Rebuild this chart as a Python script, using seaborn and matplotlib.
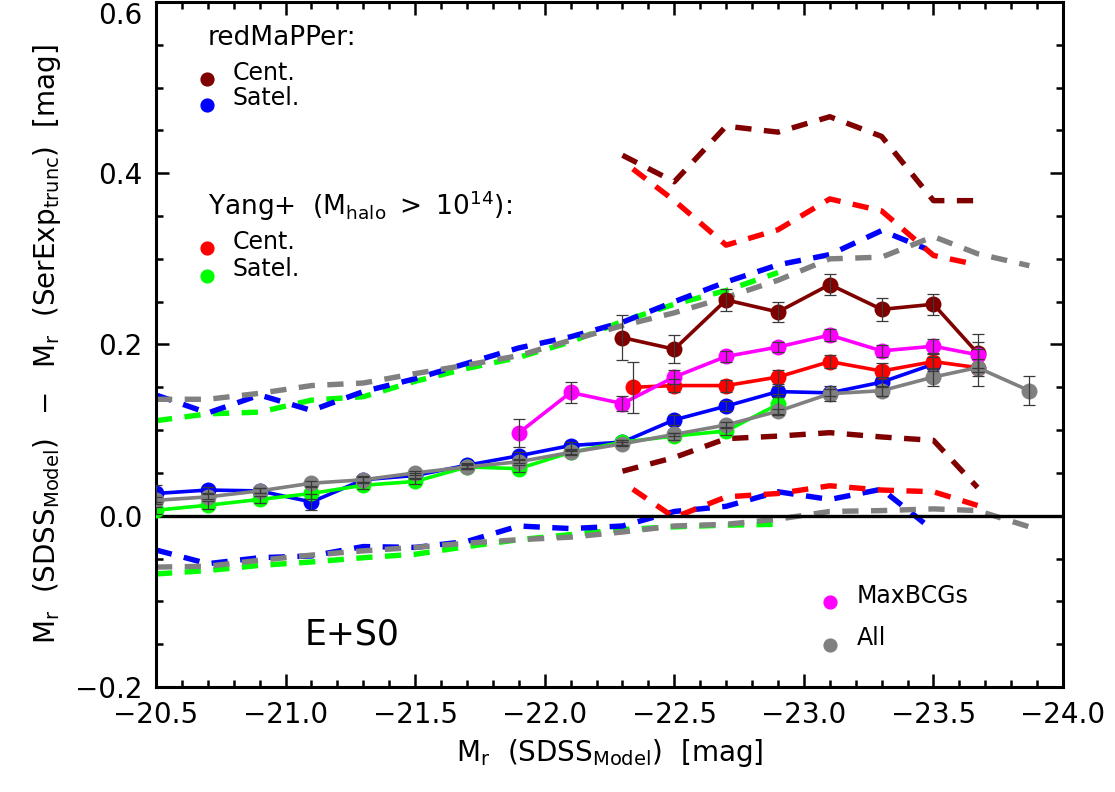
"""
M_r (SDSS Model) - M_r (SerExp trunc) vs M_r, E+S0 sample
"""
import numpy as np
import pandas as pd
import matplotlib
matplotlib.use("Agg")
import matplotlib.pyplot as plt
import seaborn as sns
from matplotlib.ticker import MultipleLocator, FuncFormatter

sns.set_style("ticks")
plt.rcParams["font.family"] = ["DejaVu Sans"]
plt.rcParams["mathtext.fontset"] = "dejavusans"
plt.rcParams["lines.dashed_pattern"] = [3.0, 2.3]
for key in ["text.color", "axes.labelcolor", "xtick.color", "ytick.color", "axes.edgecolor"]:
    plt.rcParams[key] = "black"

# ── data ─────────────────────────────────────────────────────
# redMaPPer satellites (blue)
blue_x = [-20.5, -20.7, -20.9, -21.1, -21.3, -21.5, -21.7, -21.9, -22.1, -22.3,
          -22.5, -22.7, -22.9, -23.1, -23.3, -23.5]
blue_y = [0.026, 0.030, 0.029, 0.016, 0.042, 0.047, 0.059, 0.070, 0.082, 0.086,
          0.112, 0.128, 0.145, 0.1435, 0.156, 0.177]
blue_err = [0.010, 0.004, 0.003, 0.009, 0.004, 0.003, 0.003, 0.004, 0.004, 0.003,
            0.006, 0.006, 0.006, 0.004, 0.006, 0.008]
blue_hi_x = [-20.5, -20.7, -20.9, -21.1, -21.3, -21.5, -21.7, -21.9, -22.1, -22.3,
             -22.5, -22.7, -22.9, -23.1, -23.3, -23.47]
blue_hi = [0.141, 0.120, 0.141, 0.123, 0.145, 0.160, 0.178, 0.196, 0.209, 0.226,
           0.250, 0.273, 0.293, 0.305, 0.333, 0.312]
blue_lo = [-0.040, -0.056, -0.049, -0.047, -0.036, -0.037, -0.030, -0.012, -0.015, -0.012,
           0.005, 0.011, 0.028, 0.019, 0.031, -0.010]

# all galaxies (gray)
gray_x = [-20.5, -20.7, -20.9, -21.1, -21.3, -21.5, -21.7, -21.9, -22.1, -22.3,
          -22.5, -22.7, -22.9, -23.1, -23.3, -23.5, -23.67, -23.87]
gray_y = [0.018, 0.022, 0.029, 0.038, 0.042, 0.050, 0.057, 0.063, 0.074, 0.084,
          0.095, 0.106, 0.122, 0.1425, 0.146, 0.162, 0.173, 0.146]
gray_err = [0.004, 0.003, 0.003, 0.003, 0.003, 0.002, 0.002, 0.002, 0.002, 0.002,
            0.002, 0.003, 0.003, 0.009, 0.006, 0.010, 0.022, 0.017]
gray_hi = [0.136, 0.136, 0.143, 0.152, 0.155, 0.166, 0.176, 0.187, 0.205, 0.222,
           0.237, 0.255, 0.275, 0.300, 0.302, 0.326, 0.306, 0.292]
gray_lo = [-0.060, -0.059, -0.052, -0.046, -0.041, -0.037, -0.032, -0.028, -0.025, -0.019,
           -0.012, -0.010, -0.004, 0.005, 0.006, 0.008, 0.006, -0.013]

# Yang+ satellites (green)
green_x = [-20.5, -20.7, -20.9, -21.1, -21.3, -21.5, -21.7, -21.9, -22.1, -22.3,
           -22.5, -22.7, -22.9]
green_y = [0.0064, 0.0123, 0.019, 0.026, 0.0356, 0.040, 0.057, 0.055, 0.074, 0.086,
           0.093, 0.099, 0.130]
green_err = [0.004, 0.005, 0.004, 0.007, 0.004, 0.003, 0.003, 0.004, 0.003, 0.003,
             0.004, 0.005, 0.012]
green_hi = [0.111, 0.119, 0.121, 0.135, 0.139, 0.157, 0.172, 0.185, 0.203, 0.227,
            0.247, 0.263, 0.284]
green_lo = [-0.068, -0.064, -0.058, -0.054, -0.049, -0.045, -0.036, -0.028, -0.022, -0.016,
            -0.013, -0.011, -0.010]

# MaxBCGs (magenta)
magenta_x = [-21.9, -22.1, -22.3, -22.5, -22.7, -22.9, -23.1, -23.3, -23.5, -23.67]
magenta_y = [0.0967, 0.144, 0.131, 0.162, 0.186, 0.197, 0.211, 0.1925, 0.198, 0.188]
magenta_err = [0.016, 0.0125, 0.009, 0.008, 0.0065, 0.006, 0.0066, 0.007, 0.0084, 0.015]

# Yang+ centrals (red)
red_x = [-22.34, -22.5, -22.7, -22.9, -23.1, -23.3, -23.5, -23.67]
red_y = [0.150, 0.152, 0.152, 0.162, 0.180, 0.169, 0.180, 0.173]
red_err = [0.030, 0.008, 0.007, 0.008, 0.008, 0.009, 0.009, 0.010]
red_hi = [0.405, 0.368, 0.316, 0.334, 0.370, 0.356, 0.304, 0.293]
red_lo = [0.031, -0.002, 0.022, 0.026, 0.035, 0.030, 0.028, 0.012]

# redMaPPer centrals (dark red)
darkred_x = [-22.3, -22.5, -22.7, -22.9, -23.1, -23.3, -23.5, -23.67]
darkred_y = [0.208, 0.1945, 0.252, 0.238, 0.270, 0.241, 0.247, 0.190]
darkred_err = [0.026, 0.016, 0.013, 0.012, 0.012, 0.013, 0.012, 0.022]
darkred_hi = [0.421, 0.390, 0.455, 0.448, 0.466, 0.443, 0.368, 0.368]
darkred_lo = [0.052, 0.068, 0.090, 0.093, 0.097, 0.092, 0.088, 0.033]

C_DARKRED = "#800000"
C_BLUE = "#0000ff"
C_RED = "#ff0000"
C_GREEN = "#00ff00"
C_MAGENTA = "#ff00ff"
C_GRAY = "#808080"

fig = plt.figure(figsize=(11.15, 7.92), dpi=100)
ax = fig.add_axes([0.1399, 0.1326, 0.8135, 0.8649])

# ── dashed envelopes ─────────────────────────────────────────
dashed = [
    (green_x, green_hi, C_GREEN), (green_x, green_lo, C_GREEN),
    (blue_hi_x, blue_hi, C_BLUE), (blue_hi_x, blue_lo, C_BLUE),
    (gray_x, gray_hi, C_GRAY), (gray_x, gray_lo, C_GRAY),
    (red_x, red_hi, C_RED), (red_x, red_lo, C_RED),
    (darkred_x, darkred_hi, C_DARKRED), (darkred_x, darkred_lo, C_DARKRED),
]
for xs, ys, col in dashed:
    sns.lineplot(x=xs, y=ys, ax=ax, color=col, linewidth=3.9, linestyle="--",
                 sort=False, errorbar=None, zorder=2)

ax.axhline(0, color="black", linewidth=2.4, zorder=3)

# ── solid lines with points and error bars ───────────────────
solid = [
    (darkred_x, darkred_y, darkred_err, C_DARKRED),
    (blue_x, blue_y, blue_err, C_BLUE),
    (red_x, red_y, red_err, C_RED),
    (green_x, green_y, green_err, C_GREEN),
    (magenta_x, magenta_y, magenta_err, C_MAGENTA),
    (gray_x, gray_y, gray_err, C_GRAY),
]
for i, (xs, ys, es, col) in enumerate(solid):
    df = pd.DataFrame({"x": xs, "y": ys})
    sns.lineplot(data=df, x="x", y="y", ax=ax, color=col, linewidth=2.6,
                 marker="o", markersize=11.5, markeredgewidth=0,
                 sort=False, errorbar=None, zorder=4 + i)
    ax.errorbar(xs, ys, yerr=es, fmt="none", ecolor="#3a3a3a", elinewidth=0.9,
                capsize=4, capthick=0.9, zorder=20)

# ── axes ──────────────────────────────────────────────────────
ax.set_xlim(-20.5, -24.0)
ax.set_ylim(-0.2, 0.6)
ax.xaxis.set_major_locator(MultipleLocator(0.5))
ax.xaxis.set_minor_locator(MultipleLocator(0.1))
ax.xaxis.set_major_formatter(FuncFormatter(lambda v, p: f"{v:.1f}".replace("-", "\u2212")))
ax.set_yticks([-0.2, 0.0, 0.2, 0.4, 0.6], ["\u22120.2", "0.0", "0.2", "0.4", "0.6"])
ax.yaxis.set_minor_locator(MultipleLocator(0.05))
ax.get_yticklabels()[-1].set_va("top")
ax.tick_params(which="both", direction="in", top=True, right=True, width=1.8,
               labelsize=20, color="black", labelcolor="black")
ax.tick_params(which="major", length=9.5, pad=10)
ax.tick_params(which="minor", length=5)
for sp in ax.spines.values():
    sp.set_linewidth(2.2)
    sp.set_color("black")

ax.set_xlabel(r"$\mathregular{M_r\ \ (SDSS_{Model})\ \ [mag]}$", fontsize=20, labelpad=6)
ax.set_ylabel(r"$\mathregular{M_r\ \ (SDSS_{Model})\ \ -\ \ M_r\ \ (SerExp_{trunc})\ \ [mag]}$",
              fontsize=20, labelpad=8)

# ── legend-like annotations ───────────────────────────────────
tr = ax.transAxes
ax.text(0.0573, 0.937, "redMaPPer:", transform=tr, fontsize=19, va="baseline")
ax.scatter([0.0562], [0.888], s=85, color=C_DARKRED, transform=tr, clip_on=False, zorder=30)
ax.text(0.0849, 0.886, "Cent.", transform=tr, fontsize=17, va="baseline")
ax.scatter([0.0562], [0.850], s=85, color=C_BLUE, transform=tr, clip_on=False, zorder=30)
ax.text(0.0849, 0.850, "Satel.", transform=tr, fontsize=17, va="baseline")

ax.text(0.0573, 0.689, r"Yang+  $\mathregular{(M_{halo}\ >\ 10^{14})}$:", transform=tr,
        fontsize=19, va="baseline")
ax.scatter([0.0562], [0.641], s=85, color=C_RED, transform=tr, clip_on=False, zorder=30)
ax.text(0.0849, 0.639, "Cent.", transform=tr, fontsize=17, va="baseline")
ax.scatter([0.0562], [0.600], s=85, color=C_GREEN, transform=tr, clip_on=False, zorder=30)
ax.text(0.0849, 0.600, "Satel.", transform=tr, fontsize=17, va="baseline")

ax.scatter([0.743], [0.1245], s=85, color=C_MAGENTA, transform=tr, clip_on=False, zorder=30)
ax.text(0.7725, 0.1226, "MaxBCGs", transform=tr, fontsize=17, va="baseline")
ax.scatter([0.743], [0.0613], s=85, color=C_GRAY, transform=tr, clip_on=False, zorder=30)
ax.text(0.7725, 0.0613, "All", transform=tr, fontsize=17, va="baseline")

ax.text(0.164, 0.0613, "E+S0", transform=tr, fontsize=25, va="baseline")

fig.savefig("out.png", dpi=100)
